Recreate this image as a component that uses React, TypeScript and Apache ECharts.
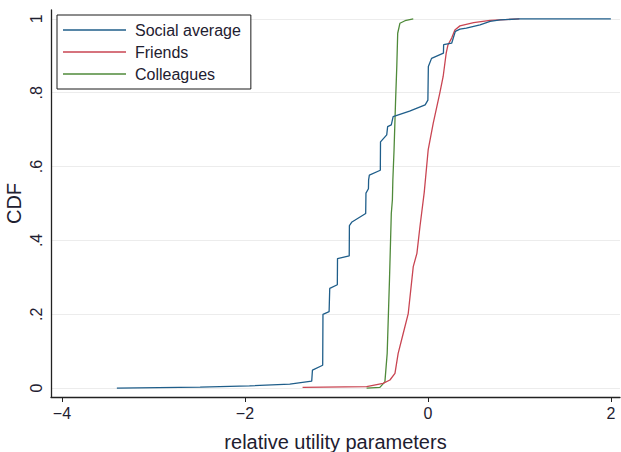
import React, { useEffect, useRef } from "react";
import * as echarts from "echarts";

const xTicks = [-4, -2, 0, 2];
const yTicks = [0, 0.2, 0.4, 0.6, 0.8, 1];
const yTickLabels: Record<string, string> = { "0": "0", "0.2": ".2", "0.4": ".4", "0.6": ".6", "0.8": ".8", "1": "1" };

const seriesNames = ["Social average", "Friends", "Colleagues"];

const socialAverage: [number, number][] = [
  [-3.4, 0.0], [-2.49, 0.003], [-1.95, 0.006], [-1.51, 0.011], [-1.27, 0.019],
  [-1.262, 0.049], [-1.15, 0.062], [-1.147, 0.2], [-1.08, 0.207], [-1.073, 0.27],
  [-0.99, 0.28], [-0.988, 0.351], [-0.86, 0.358], [-0.858, 0.44], [-0.83, 0.45],
  [-0.68, 0.473], [-0.677, 0.528], [-0.65, 0.54], [-0.648, 0.564], [-0.64, 0.577],
  [-0.52, 0.59], [-0.518, 0.667], [-0.45, 0.686], [-0.44, 0.708], [-0.4, 0.713],
  [-0.38, 0.735], [-0.2, 0.75], [-0.03, 0.767], [0.0, 0.78], [0.005, 0.871],
  [0.04, 0.893], [0.17, 0.907], [0.172, 0.93], [0.26, 0.934], [0.30, 0.966],
  [0.35, 0.972], [0.42, 0.975], [0.57, 0.984], [0.68, 0.993], [0.79, 0.997],
  [1.0, 1.0], [2.0, 1.0],
];

const friends: [number, number][] = [
  [-1.37, 0.002], [-0.67, 0.004], [-0.49, 0.013], [-0.415, 0.022], [-0.36, 0.04],
  [-0.325, 0.094], [-0.27, 0.148], [-0.215, 0.202], [-0.16, 0.329], [-0.12, 0.365],
  [-0.087, 0.437], [-0.04, 0.53], [0.003, 0.645], [0.058, 0.717], [0.13, 0.799],
  [0.167, 0.844], [0.2, 0.907], [0.22, 0.93], [0.26, 0.948], [0.295, 0.97],
  [0.35, 0.981], [0.5, 0.99], [0.68, 0.996], [1.0, 1.0],
];

const colleagues: [number, number][] = [
  [-0.67, 0.0], [-0.525, 0.002], [-0.47, 0.017], [-0.445, 0.094], [-0.42, 0.293],
  [-0.4, 0.473], [-0.388, 0.51], [-0.383, 0.564], [-0.37, 0.645], [-0.353, 0.78],
  [-0.34, 0.871], [-0.33, 0.961], [-0.306, 0.988], [-0.25, 0.995], [-0.16, 1.0],
];

const colors = ["#1f5e8a", "#c94552", "#4f8a3a"];
const font = "'Liberation Sans', Arial, Helvetica, sans-serif";
const textColor = "#1e2030";

export default function App() {
  const ref = useRef<HTMLDivElement>(null);
  useEffect(() => {
    if (!ref.current) return;
    const chart = echarts.init(ref.current, null, { renderer: "svg" });
    chart.setOption({
      animation: false,
      backgroundColor: "#ffffff",
      textStyle: { fontFamily: font },
      grid: { left: 51, right: 1, top: 10, bottom: 55, containLabel: false, outerBoundsMode: "none" },
      legend: {
        left: 57,
        top: 15,
        orient: "vertical",
        backgroundColor: "#ffffff",
        borderColor: "#1a1a1a",
        borderWidth: 1,
        borderRadius: 0,
        padding: [6, 10, 6, 6],
        itemGap: 4,
        itemWidth: 63,
        itemHeight: 1.6,
        icon: "rect",
        textStyle: { fontFamily: font, fontSize: 16, color: textColor, padding: [0, 0, 0, 4], lineHeight: 18 },
        data: seriesNames,
      },
      xAxis: {
        type: "value",
        min: -4.12,
        max: 2.1,
        name: "relative utility parameters",
        nameLocation: "middle",
        nameGap: 35,
        nameMoveOverlap: false,
        nameTextStyle: { fontFamily: font, fontSize: 20, color: textColor },
        axisLine: { show: true, onZero: false, lineStyle: { color: "#222", width: 1.3 } },
        axisTick: { show: true, length: 5, customValues: xTicks, lineStyle: { color: "#222" } },
        axisLabel: {
          customValues: xTicks,
          fontFamily: font,
          fontSize: 16,
          color: textColor,
          margin: 8,
          formatter: (v: number) => (v < 0 ? "\u2212" + Math.abs(v) : String(v)),
        },
        splitLine: { show: false },
      },
      yAxis: {
        type: "value",
        min: -0.024,
        max: 1.024,
        name: "CDF",
        nameLocation: "middle",
        nameGap: 27,
        nameMoveOverlap: false,
        nameRotate: 90,
        nameTextStyle: { fontFamily: font, fontSize: 20, color: textColor },
        axisLine: { show: true, onZero: false, lineStyle: { color: "#222", width: 1.3 } },
        axisTick: { show: false, customValues: yTicks },
        axisLabel: {
          customValues: yTicks,
          rotate: 90,
          fontFamily: font,
          fontSize: 16,
          color: textColor,
          margin: 7,
          formatter: (v: number) => yTickLabels[String(Math.round(v * 10) / 10)] ?? String(v),
        },
        splitLine: { show: true, lineStyle: { color: "#ececec", width: 1.2 } },
      },
      series: [
        { name: seriesNames[0], type: "line", data: socialAverage, symbol: "none", lineStyle: { color: colors[0], width: 1.3 }, itemStyle: { color: colors[0] }, z: 4 },
        { name: seriesNames[1], type: "line", data: friends, symbol: "none", lineStyle: { color: colors[1], width: 1.3 }, itemStyle: { color: colors[1] }, z: 3 },
        { name: seriesNames[2], type: "line", data: colleagues, symbol: "none", lineStyle: { color: colors[2], width: 1.3 }, itemStyle: { color: colors[2] }, z: 2 },
      ],
    });
    return () => chart.dispose();
  }, []);
  return <div ref={ref} style={{ width: 621, height: 452, position: "fixed", left: 0, top: 0 }} />;
}
